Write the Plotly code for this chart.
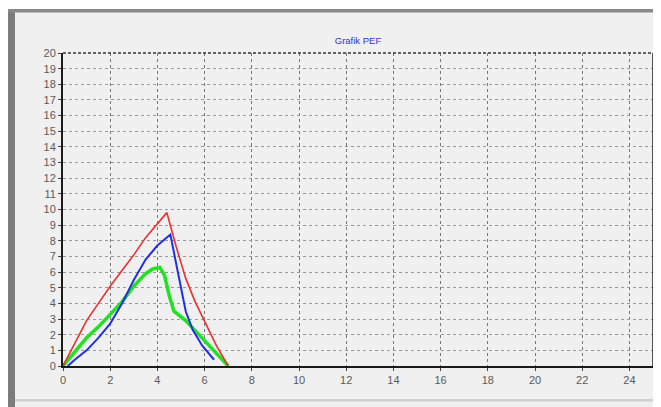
import plotly.graph_objects as go

# Data
red_x = [0, 0.5, 1, 1.5, 2, 2.5, 3, 3.5, 4, 4.4, 4.8, 5.2, 5.6, 6, 6.5, 7]
red_y = [0, 1.5, 2.9, 4.0, 5.1, 6.1, 7.1, 8.2, 9.1, 9.8, 7.6, 5.6, 4.1, 2.9, 1.3, 0]

blue_x = [0.2, 0.5, 1, 1.5, 2, 2.5, 3, 3.5, 4, 4.55, 4.8, 5.0, 5.2, 5.5, 5.9, 6.4]
blue_y = [0, 0.4, 1.0, 1.8, 2.7, 4.0, 5.5, 6.8, 7.7, 8.4, 6.5, 5.0, 3.5, 2.3, 1.3, 0.4]

green_x = [0, 0.5, 1, 1.5, 2, 2.5, 3, 3.5, 3.8, 4.1, 4.3, 4.5, 4.7, 5.2, 5.7, 6.2, 6.6, 7]
green_y = [0, 0.9, 1.8, 2.5, 3.3, 4.1, 5.1, 5.9, 6.2, 6.3, 5.8, 4.5, 3.5, 2.9, 2.1, 1.3, 0.6, 0]

x_ticks = list(range(0, 25, 2))
y_ticks = list(range(0, 21, 1))

# page body has an 8px margin, so the figure starts at (8, 8) of the window
OFF = 8
W, H = 661 - OFF, 407 - OFF
L, R, T, B = 63 - OFF, 8, 53 - OFF, 41
pw, ph = W - L - R, H - T - B

def px(x):  # x in window pixels
    return (x - OFF - L) / pw

def py(y):  # y in window pixels
    return (H - B - (y - OFF)) / ph

fig = go.Figure()
fig.add_trace(go.Scatter(x=green_x, y=green_y, mode="lines",
                         line=dict(color="#22e022", width=3.5), showlegend=False))
fig.add_trace(go.Scatter(x=blue_x, y=blue_y, mode="lines",
                         line=dict(color="#2030e0", width=2), showlegend=False))
fig.add_trace(go.Scatter(x=red_x, y=red_y, mode="lines",
                         line=dict(color="#e83030", width=1.6), showlegend=False))

shapes = [
    # inner panel
    dict(type="rect", xref="paper", yref="paper", x0=px(15), x1=px(664), y0=py(12), y1=py(410),
         fillcolor="#f0f0f0", line=dict(width=0), layer="below"),
    # left dark band
    dict(type="rect", xref="paper", yref="paper", x0=px(8), x1=px(15), y0=py(9), y1=py(410),
         fillcolor="#7c7c7c", line=dict(width=0), layer="below"),
    # top dark band
    dict(type="rect", xref="paper", yref="paper", x0=px(8), x1=px(664), y0=py(9), y1=py(12.5),
         fillcolor="#8a8a8a", line=dict(width=0), layer="below"),
    # bottom light line
    dict(type="rect", xref="paper", yref="paper", x0=px(15), x1=px(664), y0=py(399), y1=py(401.5),
         fillcolor="#cfcfcf", line=dict(width=0), layer="below"),
    # right border of plot
    dict(type="line", xref="paper", yref="paper", x0=1, x1=1, y0=0, y1=1,
         line=dict(color="#222222", width=1.5)),
    # top border dashed
    dict(type="line", xref="paper", yref="paper", x0=0, x1=1, y0=1, y1=1,
         line=dict(color="#333333", width=1.5, dash="3px,2px")),
]

fig.update_layout(
    width=W, height=H,
    margin=dict(l=L, r=R, t=T, b=B),
    paper_bgcolor="white",
    plot_bgcolor="#f2f2f2",
    shapes=shapes,
    title=dict(text="Grafik PEF", x=(358 - OFF) / W, xanchor="center", y=1 - (41 - OFF) / H,
               yanchor="middle",
               font=dict(family="Liberation Sans, Arial", size=9.5, color="#3030d0")),
    font=dict(family="Liberation Sans, Arial", size=11, color="#5a5a5a"),
)
fig.update_xaxes(range=[0, 25], tickvals=x_ticks, ticktext=[str(v) for v in x_ticks],
                 showline=True, linecolor="#1a1a1a", linewidth=2,
                 showgrid=True, gridcolor="#777777", gridwidth=1, griddash="3px,3px",
                 ticks="outside", ticklen=3, tickcolor="#444444", zeroline=False,
                 fixedrange=True)
fig.update_yaxes(range=[0, 20], tickvals=y_ticks, ticktext=[str(v) for v in y_ticks],
                 showline=True, linecolor="#1a1a1a", linewidth=2,
                 showgrid=True, gridcolor="#9a9a9a", gridwidth=1, griddash="3px,3px",
                 ticks="outside", ticklen=3, tickcolor="#444444", zeroline=False,
                 fixedrange=True)

fig.write_html("out.html")
